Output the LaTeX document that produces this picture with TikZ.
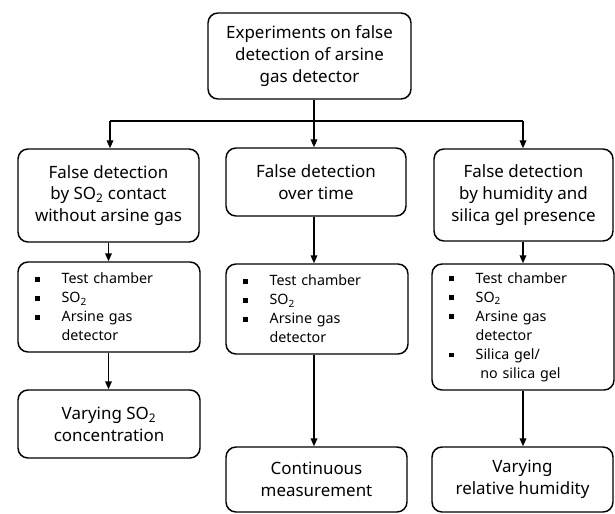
\documentclass[tikz,border=0pt]{standalone}
\usepackage{fontspec}
\setmainfont{Noto Sans}
\usetikzlibrary{arrows.meta}
\newcommand\bl{\makebox[20pt][l]{\rule[0.25ex]{3.6pt}{3.6pt}}}
\newcommand\ind{\hspace*{20pt}}
\begin{document}
\begin{tikzpicture}[x=0.75pt,y=-0.75pt,
  box/.style={draw, rounded corners=7.5pt, line width=1.1pt, align=center,
    font=\fontsize{12.7}{16.4}\selectfont, inner sep=2pt},
  lst/.style={box, align=left, font=\fontsize{10.7}{14.3}\selectfont,
    inner xsep=12.75pt, text width=111pt},
  ln/.style={line width=1.1pt},
  arr/.style={ln, -{Triangle[length=6pt,width=5pt]}}]
\useasboundingbox (0,0) rectangle (615,514);
% boxes
\node[box, minimum width=203*0.75pt, minimum height=86*0.75pt] (top) at (309.5,56)
  {Experiments on false\\detection of arsine\\gas detector};
\node[box, minimum width=181*0.75pt, minimum height=93*0.75pt] (L1) at (108.5,195.5)
  {False detection\\by SO\textsubscript{2} contact\\without arsine gas};
\node[box, minimum width=180*0.75pt, minimum height=68*0.75pt] (M1) at (316,182)
  {False detection\\over time};
\node[box, minimum width=179*0.75pt, minimum height=92*0.75pt] (R1) at (523.5,195)
  {False detection\\by humidity and\\silica gel presence};
\node[lst, minimum height=90*0.75pt] (L2) at (109,307)
  {\bl Test chamber\\\bl SO\textsubscript{2}\\\bl Arsine gas\\\ind detector};
\node[lst, minimum height=90*0.75pt] (M2) at (317,309)
  {\bl Test chamber\\\bl SO\textsubscript{2}\\\bl Arsine gas\\\ind detector};
\node[lst, minimum height=126*0.75pt] (R2) at (523,327)
  {\bl Test chamber\\\bl SO\textsubscript{2}\\\bl Arsine gas\\\ind detector\\\bl Silica gel/\\\ind\ no silica gel};
\node[box, minimum width=182*0.75pt, minimum height=68*0.75pt] (L3) at (109,424)
  {Varying SO\textsubscript{2}\\concentration};
\node[box, minimum width=181*0.75pt, minimum height=65*0.75pt] (M3) at (316.5,479.5)
  {Continuous\\measurement};
\node[box, minimum width=181*0.75pt, minimum height=65*0.75pt] (R3) at (522.5,479.5)
  {Varying\\relative humidity};
% connectors
\coordinate (jL) at (110,121);
\coordinate (jM) at (314,121);
\coordinate (jR) at (523,121);
\draw[ln] (jM |- top.south) -- (jM);
\draw[ln] (jL) -- (jR);
\draw[arr] (jL) -- (jL |- L1.north);
\draw[arr] (jM) -- (jM |- M1.north);
\draw[arr] (jR) -- (jR |- R1.north);
\draw[arr] (L1.south) -- (L1.south |- L2.north);
\draw[arr] (L1.south |- L2.south) -- (L1.south |- L3.north);
\draw[arr] (jM |- M1.south) -- (jM |- M2.north);
\draw[arr] (jM |- M2.south) -- (jM |- M3.north);
\draw[arr] (jR |- R1.south) -- (jR |- R2.north);
\draw[arr] (jR |- R2.south) -- (jR |- R3.north);
\end{tikzpicture}
\end{document}
